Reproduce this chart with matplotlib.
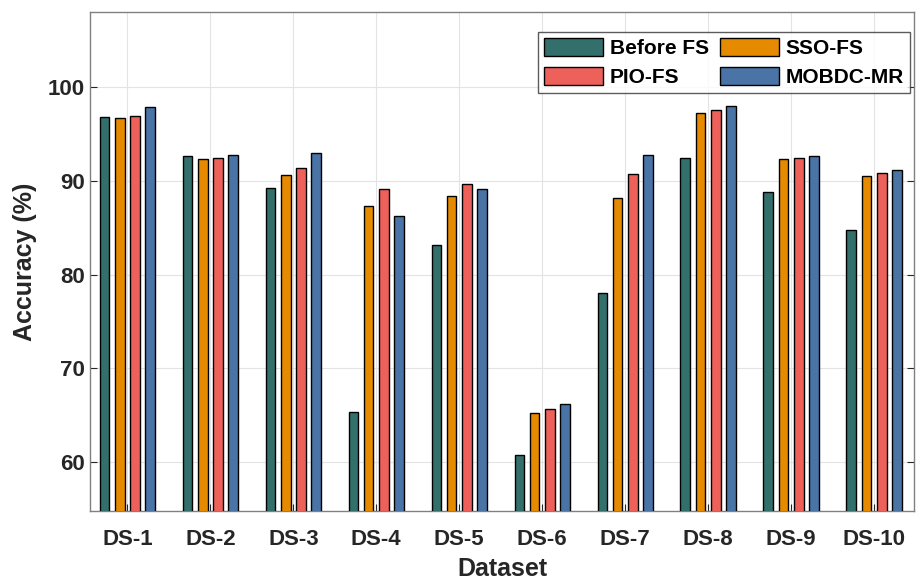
import matplotlib
matplotlib.use("Agg")
import matplotlib.pyplot as plt
import numpy as np

plt.rcParams['font.family'] = ['Liberation Sans', 'DejaVu Sans']
plt.rcParams['font.weight'] = 'bold'

datasets = ['DS-1', 'DS-2', 'DS-3', 'DS-4', 'DS-5', 'DS-6', 'DS-7', 'DS-8', 'DS-9', 'DS-10']
series_names = ['Before FS', 'SSO-FS', 'PIO-FS', 'MOBDC-MR']
before_fs = [96.8, 92.7, 89.3, 65.4, 83.2, 60.8, 78.1, 92.4, 88.8, 84.8]
sso_fs = [96.7, 92.3, 90.6, 87.3, 88.4, 65.3, 88.2, 97.2, 92.3, 90.5]
pio_fs = [96.9, 92.4, 91.4, 89.1, 89.7, 65.7, 90.7, 97.6, 92.5, 90.8]
mobdc_mr = [97.9, 92.8, 93.0, 86.3, 89.1, 66.2, 92.8, 98.0, 92.7, 91.2]
yticks = [60, 70, 80, 90, 100]

colors = ['#336f6b', '#e68a00', '#ee605a', '#4a74a6']
series = [before_fs, sso_fs, pio_fs, mobdc_mr]

fig = plt.figure(figsize=(9.16, 5.81), dpi=100)
ax = fig.add_axes([0.0983, 0.1205, 0.8995, 0.8585])

x = np.arange(1, len(datasets) + 1)
step = 0.184
width = 0.116
offsets = (np.arange(4) - 1.5) * step
handles = []
for vals, col, name, off in zip(series, colors, series_names, offsets):
    h = ax.bar(x + off, vals, width=width, color=col, edgecolor='black',
               linewidth=1.0, label=name, zorder=3)
    handles.append(h)

ax.set_xlim(0.55, 10.48)
ax.set_ylim(54.8, 108)
ax.set_xticks(x)
ax.set_xticklabels(datasets)
ax.set_yticks(yticks)
ax.tick_params(axis='both', direction='in', labelsize=16, colors='#262626',
               length=5, width=0.8, top=False, right=True)
ax.tick_params(axis='x', pad=13)
for lab in ax.get_xticklabels() + ax.get_yticklabels():
    lab.set_fontweight('bold')
ax.grid(True, color='#e3e3e3', linewidth=0.8, zorder=0)
for s in ax.spines.values():
    s.set_color('#808080')
    s.set_linewidth(1.0)

ax.set_xlabel('Dataset', fontsize=18, fontweight='bold', color='#262626', labelpad=5)
ax.set_ylabel('Accuracy (%)', fontsize=18, fontweight='bold', color='#262626', labelpad=8)

# row-wise legend order: Before FS, SSO-FS / PIO-FS, MOBDC-MR
order = [0, 2, 1, 3]
leg = ax.legend([handles[i] for i in order], [series_names[i] for i in order],
                ncol=2, loc='upper right', bbox_to_anchor=(1.0005, 0.969),
                fontsize=15, frameon=True, fancybox=False, edgecolor='#333333',
                handlelength=2.85, handleheight=0.95, columnspacing=0.55,
                handletextpad=0.3, borderpad=0.3, labelspacing=0.4,
                borderaxespad=0.2)
leg.get_frame().set_linewidth(1.0)
for t in leg.get_texts():
    t.set_fontweight('bold')
    t.set_color('black')

fig.savefig('out.png', dpi=100)
